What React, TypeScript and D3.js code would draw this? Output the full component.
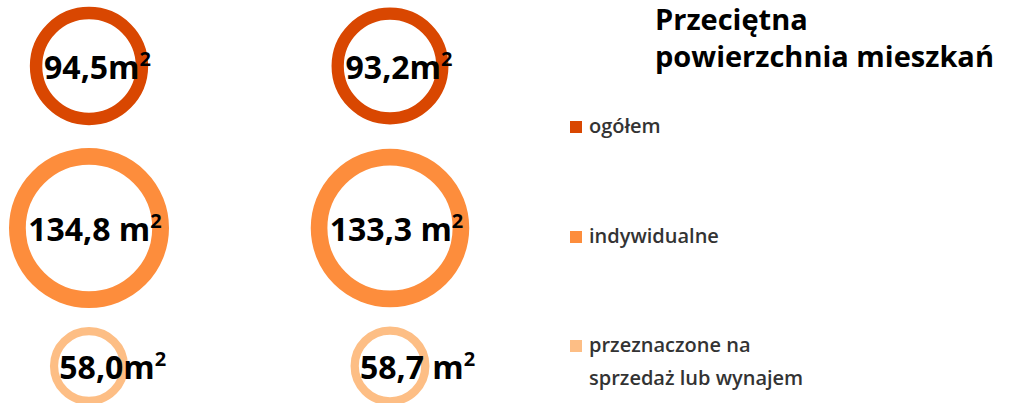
import React from "react";
import * as d3 from "d3";

// chart data
const series = ["ogółem", "indywidualne", "przeznaczone na sprzedaż lub wynajem"];
const legendLines = [["ogółem"], ["indywidualne"], ["przeznaczone na", "sprzedaż lub wynajem"]];
const columns = ["col1", "col2"];
const valuesCol1 = [94.5, 134.8, 58.0];
const valuesCol2 = [93.2, 133.3, 58.7];
const labelsCol1 = ["94,5m", "134,8 m", "58,0m"];
const labelsCol2 = ["93,2m", "133,3 m", "58,7 m"];
const titleLines = ["Przeciętna", "powierzchnia mieszkań"];

const width = 1017;
const height = 403;

const App = () => {
    //x position of each column
    const xScale = d3.scalePoint().domain(columns).range([89, 390]);

    //y position of each row
    const yScale = d3.scaleOrdinal<string, number>().domain(series).range([66, 228, 366]);

    //legend baselines
    const legendY = d3.scaleOrdinal<string, number>().domain(series).range([133, 243, 352]);

    //outer radius from value
    const rScale = d3.scalePow().exponent(0.85).domain([0, 134.8]).range([0, 80]);

    //color range
    const color = d3
        .scaleOrdinal<string, string>()
        .domain(series)
        .range(["#d94701", "#fd8d3c", "#fdbe85"]);

    const cols = [
        { key: "col1", values: valuesCol1, labels: labelsCol1 },
        { key: "col2", values: valuesCol2, labels: labelsCol2 },
    ];

    const fontFamily = "'Open Sans', sans-serif";

    return (
        <svg
            width={width}
            height={height}
            style={{ position: "absolute", left: 0, top: 0, background: "#fff" }}
        >
            {cols.map((c) =>
                c.values.map((v, i) => {
                    const s = series[i];
                    const cx = xScale(c.key)!;
                    const cy = yScale(s);
                    const r = rScale(v);
                    const sw = r * 0.21;
                    return (
                        <g key={c.key + s}>
                            <circle
                                cx={cx}
                                cy={cy}
                                r={r - sw / 2}
                                fill="none"
                                stroke={color(s)}
                                strokeWidth={sw}
                            />
                            <text
                                x={cx - r * 0.76}
                                y={cy + 13}
                                fontFamily={fontFamily}
                                fontWeight={700}
                                fontSize={32}
                                fill="#000"
                            >
                                {c.labels[i]}
                                <tspan fontSize={20} dy={-13}>2</tspan>
                            </text>
                        </g>
                    );
                })
            )}

            {/* title */}
            <text fontFamily={fontFamily} fontWeight={700} fontSize={29} fill="#000">
                {titleLines.map((t, i) => (
                    <tspan key={t} x={655} y={30 + i * 37}>
                        {t}
                    </tspan>
                ))}
            </text>

            {/* legend */}
            {series.map((s, i) => {
                const y = legendY(s);
                return (
                    <g key={s}>
                        <rect x={570} y={y - 12} width={12} height={12} fill={color(s)} />
                        <text fontFamily={fontFamily} fontWeight={600} fontSize={20} fill="#333">
                            {legendLines[i].map((t, j) => (
                                <tspan key={t} x={589} y={y + j * 33}>
                                    {t}
                                </tspan>
                            ))}
                        </text>
                    </g>
                );
            })}
        </svg>
    );
};

export default App;
